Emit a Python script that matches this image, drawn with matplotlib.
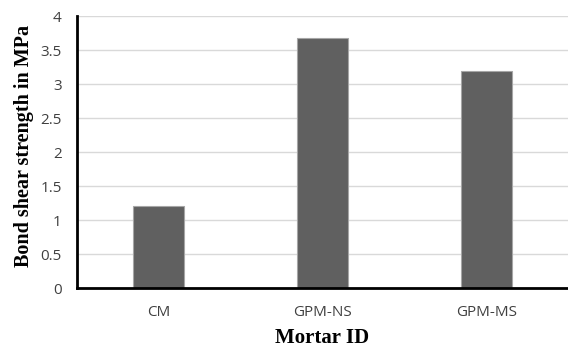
import matplotlib
matplotlib.use("Agg")
import matplotlib.pyplot as plt

categories = ["CM", "GPM-NS", "GPM-MS"]
values = [1.2, 3.68, 3.19]
yticks = [0, 0.5, 1, 1.5, 2, 2.5, 3, 3.5, 4]
ytick_labels = ["0", "0.5", "1", "1.5", "2", "2.5", "3", "3.5", "4"]

fig = plt.figure(figsize=(5.68, 3.49), dpi=100)
ax = fig.add_axes([77/568, 1-288/349, (568-77)/568, (288-16)/349])

x = range(len(categories))
ax.bar(x, values, width=0.31, color="#606060", edgecolor="#a6a6a6", linewidth=0.8, zorder=3)
ax.set_xlim(-0.5, 2.5)
ax.set_ylim(0, 4)
ax.set_yticks(yticks)
ax.set_yticklabels(ytick_labels)
ax.set_xticks(list(x))
ax.set_xticklabels(categories)
ax.grid(axis="y", color="#d9d9d9", linewidth=1.0, zorder=0)
ax.set_axisbelow(True)
for s in ["top", "right"]:
    ax.spines[s].set_visible(False)
for s in ["left", "bottom"]:
    ax.spines[s].set_linewidth(2.0)
    ax.spines[s].set_color("black")
    ax.spines[s].set_zorder(4)
ax.tick_params(axis="both", length=0, labelsize=11, labelcolor="#404040")
ax.tick_params(axis="y", pad=11)
ax.tick_params(axis="x", pad=12)
for lab in ax.get_xticklabels() + ax.get_yticklabels():
    lab.set_family("Open Sans")

ax.set_ylabel("Bond shear strength in MPa", family="Liberation Serif", fontweight="bold", fontsize=14.5)
ax.set_xlabel("Mortar ID", family="Liberation Serif", fontweight="bold", fontsize=15)
ax.yaxis.set_label_coords(-0.0876, 0.522)
ax.xaxis.set_label_coords(0.5, -0.147)

fig.savefig("out.png", dpi=100)
